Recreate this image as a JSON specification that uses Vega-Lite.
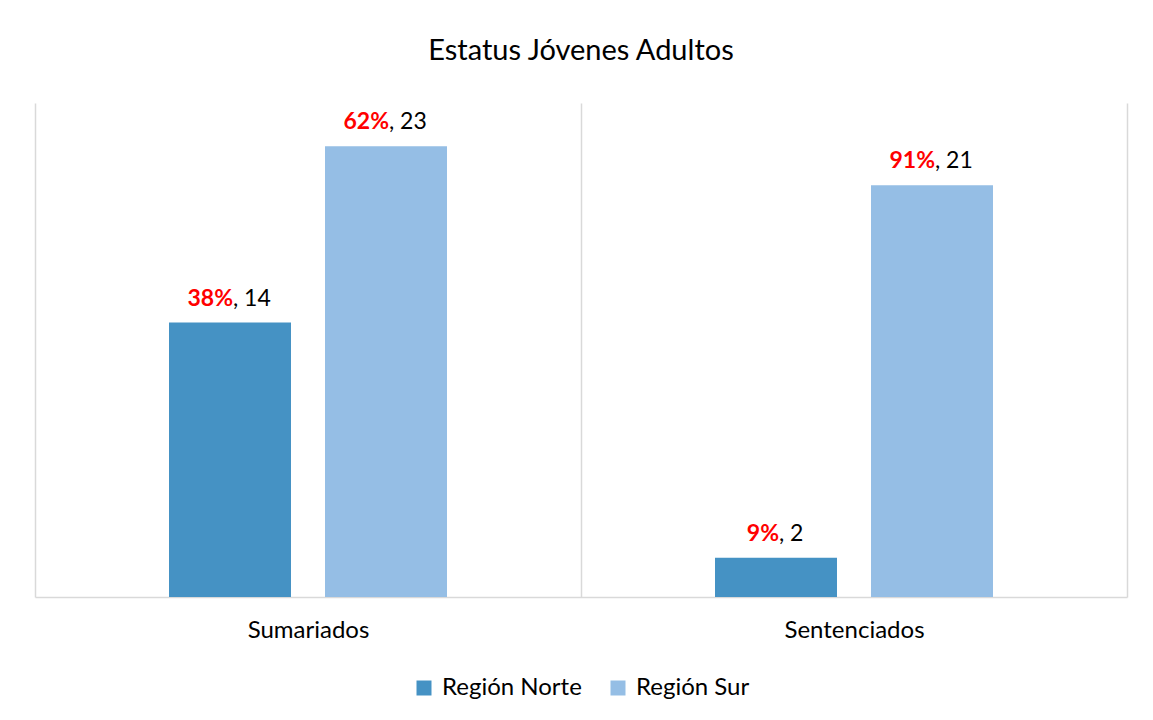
{
  "$schema": "https://vega.github.io/schema/vega-lite/v6.json",
  "width": 1092,
  "height": 494,
  "autosize": "none",
  "padding": {"left": 35, "top": 103, "right": 26, "bottom": 123},
  "background": "white",
  "title": {"text": "Estatus Jóvenes Adultos", "fontSize": 29, "font": "Lato", "fontWeight": "normal", "color": "#000000", "offset": 37},
  "data": {"values": [
    {"estatus": "Sumariados", "region": "Región Norte", "n": 14, "pct": "38%", "etiqueta": ", 14"},
    {"estatus": "Sumariados", "region": "Región Sur", "n": 23, "pct": "62%", "etiqueta": ", 23"},
    {"estatus": "Sentenciados", "region": "Región Norte", "n": 2, "pct": "9%", "etiqueta": ", 2"},
    {"estatus": "Sentenciados", "region": "Región Sur", "n": 21, "pct": "91%", "etiqueta": ", 21"}
  ]},
  "encoding": {
    "x": {"field": "estatus", "type": "nominal", "sort": ["Sumariados", "Sentenciados"],
      "scale": {"paddingInner": 0, "paddingOuter": 0},
      "axis": {"title": null, "tickBand": "extent", "grid": true, "gridColor": "#d9d9d9", "gridWidth": 1.5, "ticks": false,
        "domainColor": "#d9d9d9", "domainWidth": 1.5, "labelFontSize": 24, "labelFont": "Lato", "labelColor": "#000000", "labelPadding": 21, "labelAngle": 0}},
    "xOffset": {"field": "region", "type": "nominal", "sort": ["Región Norte", "Región Sur"], "scale": {"paddingInner": 0.218, "paddingOuter": 0.859}},
    "y": {"field": "n", "type": "quantitative", "scale": {"domain": [0, 25.2]}, "axis": null}
  },
  "layer": [
    {"mark": {"type": "bar"},
     "encoding": {"color": {"field": "region", "type": "nominal",
        "scale": {"domain": ["Región Norte", "Región Sur"], "range": ["#4592C4", "#95BEE5"]},
        "legend": {"title": null, "orient": "bottom", "direction": "horizontal", "symbolType": "square", "symbolSize": 225,
          "symbolStrokeWidth": 0, "labelFontSize": 24, "labelFont": "Lato", "labelColor": "#000000", "labelOffset": 6, "columnPadding": 24, "offset": 34}}}},
    {"mark": {"type": "text", "align": "right", "baseline": "alphabetic", "dx": 3, "dy": -17, "fontSize": 23, "fontWeight": "bold", "color": "#ff0000", "font": "Lato"},
     "encoding": {"text": {"field": "pct"}}},
    {"mark": {"type": "text", "align": "left", "baseline": "alphabetic", "dx": 3, "dy": -17, "fontSize": 23, "color": "#000000", "font": "Lato"},
     "encoding": {"text": {"field": "etiqueta"}}}
  ],
  "config": {"view": {"stroke": null}, "legend": {"layout": {"bottom": {"anchor": "middle"}}}}
}
